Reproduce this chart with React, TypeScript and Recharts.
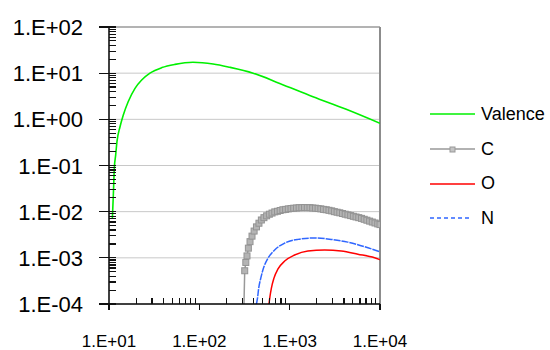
import { LineChart, Line, XAxis, YAxis, ReferenceLine } from "recharts";

// energy (x) / intensity (y) pairs, one list pair per series
const valenceX = [10.9, 11.17, 11.45, 11.86, 12.25, 13.24, 14.4, 16.3, 19.4, 23, 28.4, 38.5, 53.7, 85, 142, 217, 394, 776, 1811, 4227, 10000];
const valenceY = [0.0072, 0.023, 0.087, 0.17, 0.33, 0.69, 1.24, 2.4, 4.7, 7.1, 10, 13.2, 15.5, 17.2, 15.8, 13.4, 10, 6.0, 3.09, 1.65, 0.82];

const carbonX = [312, 318, 327, 337, 349, 364, 383, 404, 429, 457, 486, 519, 556, 596, 638, 684, 733, 785, 841, 902, 966, 1035, 1109, 1189, 1274, 1365, 1462, 1567, 1679, 1799, 1928, 2065, 2213, 2371, 2541, 2723, 2917, 3126, 3350, 3589, 3846, 4121, 4416, 4732, 5070, 5433, 5821, 6237, 6683, 7161, 7674, 8222, 8810, 9441, 10000];
const carbonY = [0.0001, 0.000525, 0.000794, 0.0011, 0.00162, 0.00224, 0.00295, 0.0038, 0.00468, 0.00562, 0.0066, 0.00741, 0.00813, 0.00881, 0.00933, 0.00989, 0.0102, 0.0106, 0.011, 0.0112, 0.0115, 0.0117, 0.0119, 0.012, 0.0122, 0.0122, 0.0123, 0.0122, 0.0122, 0.012, 0.0119, 0.0117, 0.0115, 0.0112, 0.011, 0.0107, 0.0104, 0.01, 0.00973, 0.00944, 0.00912, 0.00881, 0.00851, 0.00822, 0.00794, 0.00767, 0.00741, 0.00716, 0.00684, 0.00653, 0.00624, 0.00596, 0.00569, 0.00543, 0.00525];

const oxygenX = [590, 605, 627, 670, 743, 881, 1135, 1592, 2438, 3724, 5689, 8710, 10000];
const oxygenY = [0.0001, 0.000145, 0.000219, 0.000363, 0.000575, 0.000851, 0.00115, 0.00141, 0.00148, 0.00141, 0.0012, 0.001, 0.000912];

const nitrogenX = [429, 440, 454, 479, 520, 575, 682, 881, 1236, 1888, 2884, 4395, 6761, 10000];
const nitrogenY = [0.0001, 0.000132, 0.000219, 0.000363, 0.000646, 0.000977, 0.00148, 0.00209, 0.00251, 0.00269, 0.00251, 0.00219, 0.00174, 0.00135];

const xDecades = [10, 100, 1000, 10000];
const yDecades = [1e-4, 1e-3, 1e-2, 1e-1, 1, 10, 100];

// plot box edges
const LEFT = 109;
const BOTTOM = 304;

const toPoints = (xs: number[], ys: number[]) => xs.map((x, i) => ({ x, y: ys[i] }));

// decade ticks plus 2..9 minor ticks between them
const withMinors = (decades: number[]) => {
  const out: number[] = [];
  decades.forEach((d, i) => {
    out.push(d);
    if (i < decades.length - 1) for (let m = 2; m <= 9; m++) out.push(m * d);
  });
  return out;
};

const sci = (v: number) => {
  const e = Math.round(Math.log10(v));
  return `1.E${e < 0 ? "-" : "+"}${String(Math.abs(e)).padStart(2, "0")}`;
};

const FONT = "'Liberation Sans', Arial, sans-serif";

const YTick = (props: any) => {
  const { y, payload } = props;
  const major = yDecades.includes(payload.value);
  return (
    <g>
      <path
        d={`M${major ? LEFT - 10 : LEFT},${y}H${LEFT + 7}`}
        stroke="#111"
        strokeWidth={1.2}
        fill="none"
        shapeRendering="crispEdges"
      />
      {major && (
        <text x={LEFT - 26} y={y} dy={8} textAnchor="end" fontFamily={FONT} fontSize={22} fill="#000">
          {sci(payload.value)}
        </text>
      )}
    </g>
  );
};

const XTick = (props: any) => {
  const { x, payload } = props;
  const major = xDecades.includes(payload.value);
  return (
    <g>
      <path
        d={`M${x},${major ? BOTTOM : BOTTOM - 6}V${major ? BOTTOM + 6 : BOTTOM}`}
        stroke="#111"
        strokeWidth={1.2}
        fill="none"
        shapeRendering="crispEdges"
      />
      {major && (
        <text x={x} y={BOTTOM + 43} textAnchor="middle" fontFamily={FONT} fontSize={17} fill="#000">
          {sci(payload.value)}
        </text>
      )}
    </g>
  );
};

// square markers; the first point sits on the axis floor and gets none
const SquareDot = (props: any) => {
  const { cx, cy, index } = props;
  if (cx == null || cy == null || index === 0) return <g key={`c-${index}`} />;
  return <rect key={`c-${index}`} x={cx - 3} y={cy - 3} width={6} height={6} fill="#b4b4b4" stroke="#939393" strokeWidth={1} />;
};

const legendItems = [
  { name: "Valence", color: "#00f000", dash: undefined, marker: false },
  { name: "C", color: "#999", dash: undefined, marker: true },
  { name: "O", color: "#ff0000", dash: undefined, marker: false },
  { name: "N", color: "#2f66ff", dash: "4 3", marker: false },
];

export default function App() {
  return (
    <div style={{ position: "absolute", left: 0, top: 0, width: 550, height: 350, background: "#fff" }}>
      <LineChart width={550} height={350} margin={{ top: 27, right: 170, bottom: 0, left: 0 }}>
        {yDecades.slice(1, -1).map((v) => (
          <ReferenceLine key={v} y={v} stroke="#c8c8c8" strokeWidth={1} />
        ))}
        <ReferenceLine y={100} stroke="#9a9a9a" strokeWidth={1.5} />
        <ReferenceLine x={10000} stroke="#8c8c8c" strokeWidth={2} />
        <XAxis
          type="number"
          dataKey="x"
          scale="log"
          domain={[10, 10000]}
          allowDataOverflow
          ticks={withMinors(xDecades)}
          interval={0}
          tickSize={0}
          tickMargin={0}
          tickLine={false}
          tick={<XTick />}
          axisLine={{ stroke: "#000", strokeWidth: 1.5 }}
          height={46}
        />
        <YAxis
          type="number"
          dataKey="y"
          scale="log"
          domain={[1e-4, 100]}
          allowDataOverflow
          ticks={withMinors(yDecades)}
          interval={0}
          tickSize={0}
          tickMargin={0}
          tickLine={false}
          tick={<YTick />}
          axisLine={{ stroke: "#000", strokeWidth: 1.5 }}
          width={109}
        />
        <Line
          data={toPoints(valenceX, valenceY)}
          dataKey="y"
          type="monotone"
          stroke="#00f000"
          strokeWidth={1.6}
          dot={false}
          isAnimationActive={false}
        />
        <Line
          data={toPoints(carbonX, carbonY)}
          dataKey="y"
          type="linear"
          stroke="#999"
          strokeWidth={1.5}
          dot={SquareDot}
          isAnimationActive={false}
        />
        <Line
          data={toPoints(nitrogenX, nitrogenY)}
          dataKey="y"
          type="monotone"
          stroke="#2f66ff"
          strokeWidth={1.5}
          strokeDasharray="7 1"
          dot={false}
          isAnimationActive={false}
        />
        <Line
          data={toPoints(oxygenX, oxygenY)}
          dataKey="y"
          type="monotone"
          stroke="#ff0000"
          strokeWidth={1.5}
          dot={false}
          isAnimationActive={false}
        />
      </LineChart>
      <div style={{ position: "absolute", left: 430, top: 97, fontFamily: FONT, fontSize: 18, color: "#000" }}>
        {legendItems.map((it) => (
          <div key={it.name} style={{ height: 34.7, display: "flex", alignItems: "center" }}>
            <svg width={46} height={12} style={{ display: "block" }}>
              <line x1={0} x2={it.dash ? 40 : 45} y1={6} y2={6} stroke={it.color} strokeWidth={1.6} strokeDasharray={it.dash} />
              {it.marker && <rect x={20} y={4} width={5} height={5} fill="#c4c4c4" stroke="#999" strokeWidth={1} />}
            </svg>
            <span style={{ marginLeft: 5 }}>{it.name}</span>
          </div>
        ))}
      </div>
    </div>
  );
}
